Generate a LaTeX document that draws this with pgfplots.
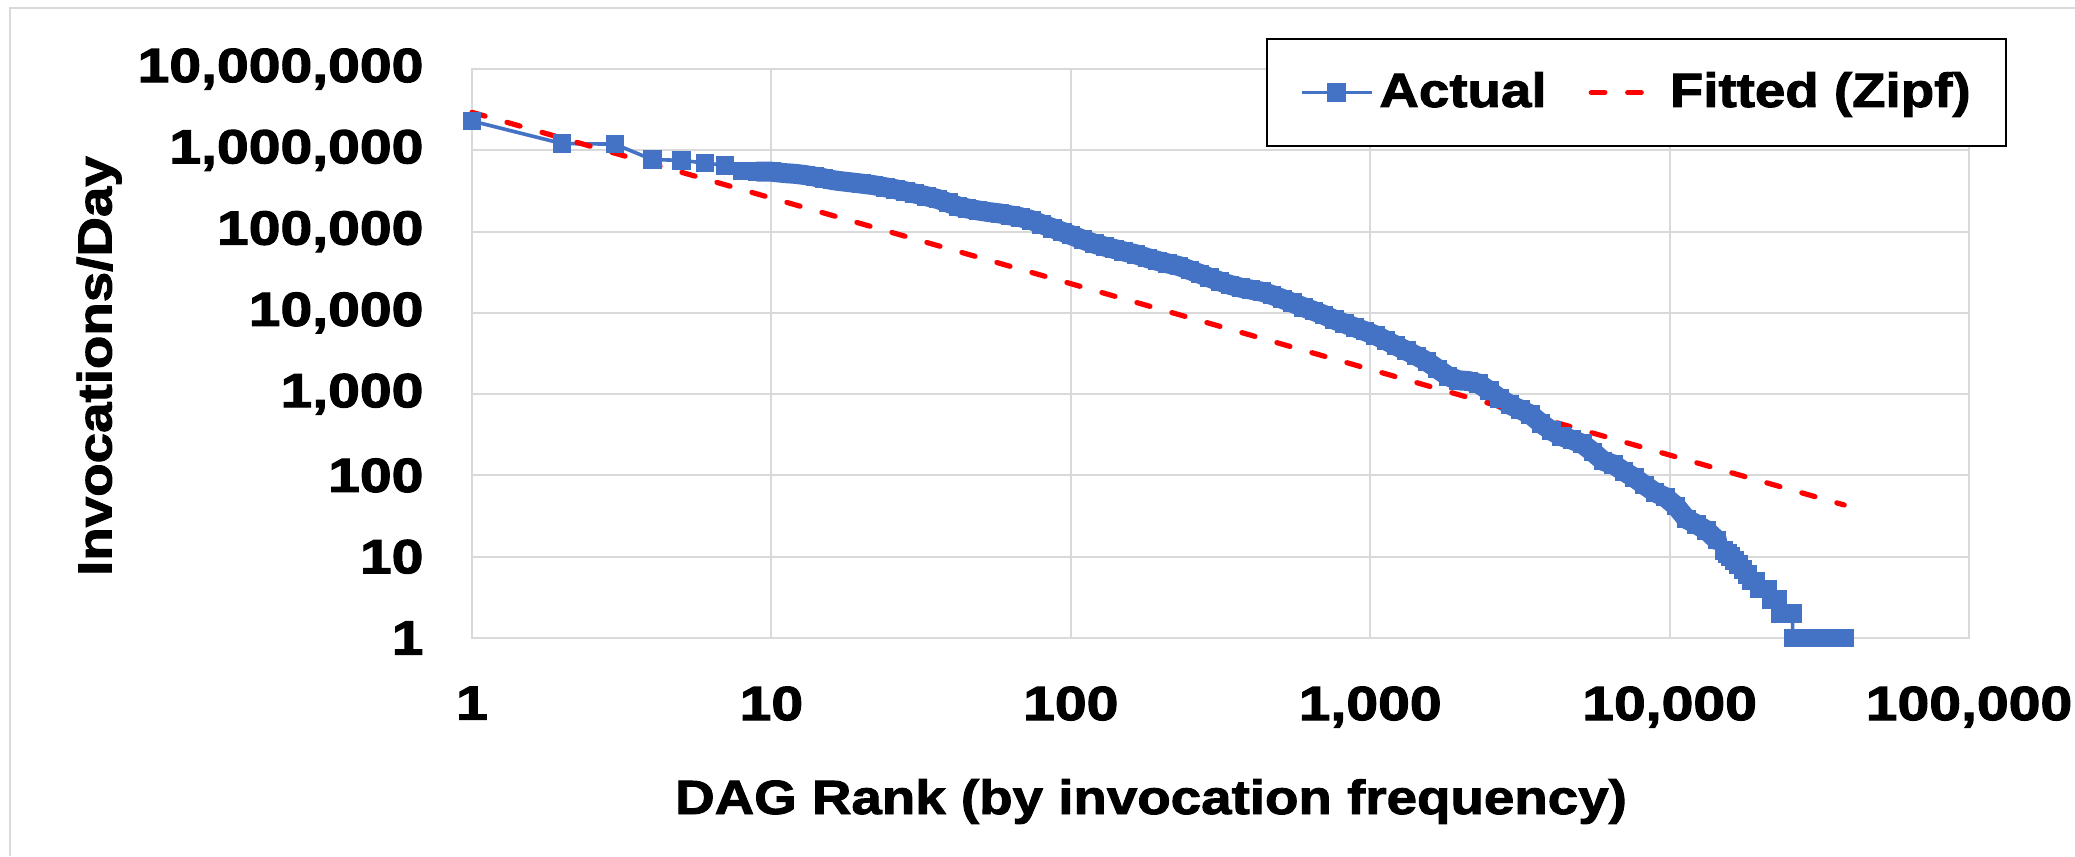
\documentclass[border=0pt]{standalone}
\usepackage{fontspec}
\setmainfont{Liberation Sans}[FakeStretch=1.14, BoldFeatures={FakeBold=2}]
\newfontfamily\tickfam{Liberation Sans}[FakeStretch=1.19, BoldFeatures={FakeBold=2.2}]
\usepackage{pgfplots}
\pgfplotsset{compat=1.18}
\usepackage{pgfplotstable}

\definecolor{xlblue}{HTML}{4472C4}
\definecolor{xlred}{HTML}{FF0000}
\definecolor{gridgray}{HTML}{D9D9D9}
\newcommand{\chartfont}{\fontsize{12}{14}\selectfont\bfseries}
\newcommand{\tickfont}{\tickfam\fontsize{12}{14}\selectfont\bfseries}

% DAG rank vs invocations per day
\pgfplotstableread{
rank inv
1 2290000
2 1210000
3 1190000
4 768000
5 753000
6 697000
7 653000
8 556000
9 548000
10 545000
11 525000
12 513000
13 495000
14 473000
15 452000
16 430000
17 417000
19 398000
20 389000
22 372000
24 351000
26 331000
28 313000
30 295000
33 272000
36 251000
39 226000
42 204000
45 193000
49 182000
53 174000
58 167000
63 158000
68 150000
74 138000
80 123000
87 110000
94 98900
100 90600
110 79400
120 70800
130 65300
140 61000
150 57100
165 52500
180 47300
195 43600
210 40700
230 37600
250 33500
270 30200
290 27200
315 24300
340 22100
370 20400
400 19300
435 18200
470 16600
510 14800
550 13300
600 11700
650 10500
700 9440
760 8220
820 7410
890 6610
960 5960
1040 5310
1130 4570
1220 3940
1320 3430
1430 2950
1550 2510
1680 2040
1820 1660
1970 1480
2130 1450
2300 1350
2500 1100
2700 891
2930 741
3170 646
3430 562
3720 437
4030 355
4360 302
4720 275
5110 245
5540 195
6000 151
6500 136
7040 112
7620 94
8250 76
8940 62
9680 54
10500 42
11400 29
12300 25
13300 21
14400 16
15200 12
15600 11
16000 10
16500 9
17000 8
17600 7
18200 6
18800 5
19400 5
20000 4
20600 4
21200 4
21800 3
22400 3
22900 3
23500 2
24200 2
24900 2
25700 2
25800 1
26800 1
28000 1
29200 1
30500 1
31900 1
33300 1
34800 1
36500 1
38300 1
}\actual

\begin{document}
\begin{tikzpicture}
\path[use as bounding box] (-118pt,-54.5pt) rectangle (400.75pt,159.5pt);
\draw[gridgray, line width=0.5pt] (-115.5pt,-54.5pt) -- (-115.5pt,157.5pt) -- (400.75pt,157.5pt);
\begin{axis}[
    scale only axis,
    width=374.25pt, height=142.25pt,
    xmode=log, ymode=log,
    xmin=1, xmax=100000, ymin=1, ymax=10000000,
    xtick={1,10,100,1000,10000,100000},
    xticklabels={1,10,100,{1,000},{10,000},{100,000}},
    ytick={1,10,100,1000,10000,100000,1000000,10000000},
    yticklabels={1,10,100,{1,000},{10,000},{100,000},{1,000,000},{10,000,000}},
    xminorticks=false, yminorticks=false,
    major tick length=0pt,
    grid=major,
    grid style={gridgray, line width=0.5pt},
    axis line style={gridgray, line width=0.6pt},
    tick label style={font=\tickfont},
    xticklabel style={yshift=-8.6pt},
    yticklabel style={xshift=-8.6pt},
    xlabel={DAG Rank (by invocation frequency)},
    ylabel={Invocations/Day},
    label style={font=\chartfont},
    xlabel style={at={(axis description cs:0.4536,-0.3093)}, anchor=base},
    ylabel style={at={(axis description cs:-0.2408,0.478)}, anchor=base},
    clip=false,
    legend columns=2,
    legend cell align=left,
    legend image code/.code={
        \draw[mark repeat=2,mark phase=2,#1] plot coordinates {(0pt,0pt) (8.75pt,0pt) (17.5pt,0pt)};},
    legend style={at={(axis description cs:0.5304,1.0545)}, anchor=north west,
        draw=black, line width=0.5pt, fill=white, font=\chartfont,
        inner xsep=8.2pt, inner ysep=7.8pt, nodes={inner sep=0.5pt},
        /tikz/every odd column/.style={column sep=1pt},
        /tikz/every even column/.style={column sep=10pt}},
]
% dense middle part of the series: thousands of overlapping markers form a band
\addplot[xlblue, line width=5pt, line join=round, line cap=round, forget plot,
    skip coords between index={0}{8}, skip coords between index={101}{200}]
    table[x=rank, y=inv] {\actual};
\addplot[xlblue, line width=0.9pt, mark=square*, mark size=1.875pt,
    mark options={solid, draw=none, fill=xlblue}] table[x=rank, y=inv] {\actual};
\addlegendentry{Actual}
\addplot[xlred, line width=1.3pt, dash pattern=on 3.4pt off 5.7pt, line cap=round]
    coordinates {(1,2930000) (38300,43.3)};
\addlegendentry{Fitted (Zipf)}
\end{axis}
\end{tikzpicture}
\end{document}
